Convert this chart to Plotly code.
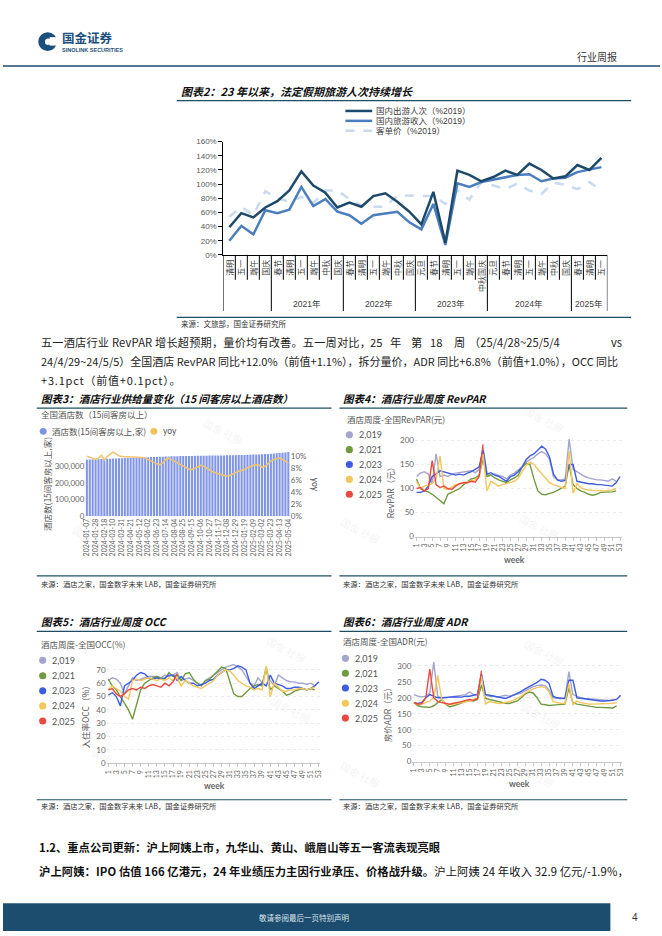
import plotly.graph_objects as go
import pandas as pd

W, H = 662, 936


def X(p):
    return p / W


def Y(p):
    return 1 - p / H


CJK = "Noto Sans CJK SC"
LAT = "Lato, Noto Sans CJK SC"
ARI = "Liberation Sans, Noto Sans CJK SC"

# ---------------- Chart 2 data ----------------
holidays = ["清明", "五一", "端午", "国庆",
            "春节", "清明", "五一", "端午", "中秋", "国庆",
            "春节", "清明", "五一", "端午", "中秋", "国庆",
            "元旦", "春节", "清明", "五一", "端午", "中秋国庆",
            "元旦", "春节", "清明", "五一", "端午", "中秋", "国庆",
            "春节", "清明", "五一"]
year_labels = ["", "2021年", "2022年", "2023年", "2024年", "2025年"]
year_sizes = [4, 6, 6, 6, 7, 3]
trips_pct = [39, 59, 53, 67, 76, 91, 118, 98, 88, 67, 74, 68, 83, 87, 75, 61,
             43, 89, 17, 119, 113, 104, 110, 119, 113, 129, 120, 108, 111, 127, 120, 137]
revenue_pct = [20, 41, 29, 63, 59, 64, 96, 69, 79, 61, 56, 44, 56, 59, 61, 46,
               36, 72, 14, 101, 96, 103, 106, 109, 113, 114, 104, 108, 109, 117, 120, 124]
spend_pct = [54, 68, 56, 90, 80, 75, 82, 73, 91, 91, 79, 70, 68, 68, 84, 84,
             83, 83, 72, 91, 78, 103, 98, 93, 101, 91, 86, 102, 99, 93, 103, 91]

# ---------------- Chart 3 data ----------------
hotel_dates = pd.date_range("2024-01-07", "2025-05-04", freq="7D").strftime("%Y-%m-%d").tolist()
hotel_count = [338000, 339000, 340000, 340500, 341000, 342000, 343000, 343500, 344000, 345000,
               346000, 346500, 347000, 348000, 348500, 349000, 350000, 350500, 351000, 352000,
               352500, 353000, 354000, 354500, 355000, 356000, 356500, 357000, 358000, 358500,
               359000, 359500, 360000, 360000, 360500, 361000, 361000, 361500, 362000, 362000,
               362000, 362500, 363000, 363000, 363000, 363500, 364000, 364000, 364500, 365000,
               365000, 365500, 366000, 366500, 367000, 367500, 368000, 369000, 369500, 370000,
               371000, 372000, 373000, 374000, 375000, 377000, 378000, 380000, 382000, 385000]
hotel_yoy = [10.0, 9.9, 9.7, 9.5, 9.7, 10.2, 9.4, 10.0, 10.4, 10.7,
             10.4, 10.1, 9.95, 9.9, 9.9, 9.9, 9.9, 9.9, 9.85, 9.8,
             9.7, 9.45, 9.2, 8.9, 8.75, 8.6, 8.9, 9.45, 9.7, 9.45,
             9.2, 8.9, 8.6, 8.35, 8.1, 7.8, 7.8, 8.0, 8.2, 8.5,
             8.35, 8.0, 7.65, 7.4, 7.25, 7.1, 6.95, 6.75, 6.7, 6.8,
             7.1, 7.3, 7.5, 7.65, 7.8, 8.1, 8.35, 8.5, 8.6, 8.5,
             8.2, 8.35, 8.75, 9.2, 9.45, 9.6, 9.7, 9.45, 9.2, 8.9]
yoy_ticks = [0, 2, 4, 6, 8, 10]

# ---------------- Weekly hotel data (charts 4-6) ----------------
year_names = ["2,019", "2,021", "2,023", "2,024", "2,025"]
year_colors = ["#A3A5CF", "#6F9A3E", "#3E5CE0", "#F4C65C", "#E9493F"]

revpar_2019 = [125, 132, 135, 130, 110, 172, 125, 128, 125, 130, 132, 133, 135, 135, 137, 133, 140, 185,
               130, 128, 130, 127, 125, 120, 128, 132, 138, 145, 155, 160, 165, 172, 177, 172, 160, 125,
               118, 118, 120, 203, 140, 135, 130, 125, 122, 120, 118, 118, 117, 115, 120, 115]
revpar_2021 = [120, 100, 95, 93, 88, 82, 75, 68, 88, 92, 96, 100, 108, 115, 120, 122, 128, 162,
               125, 128, 122, 118, 115, 112, 118, 122, 128, 145, 152, 150, 120, 95, 88, 87, 90, 92,
               96, 100, 105, 150, 108, 100, 95, 92, 88, 86, 88, 92, 92, 92, 93, 95]
revpar_2023 = [92, 92, 95, 105, 125, 130, 137, 135, 133, 130, 128, 130, 128, 132, 135, 140, 145, 180,
               130, 133, 128, 125, 120, 115, 125, 128, 135, 145, 160, 168, 172, 180, 188, 182, 165, 130,
               118, 115, 117, 150, 150, 115, 113, 112, 110, 110, 108, 108, 107, 106, 105, 112, 125]
revpar_2024 = [115, 100, 105, 108, 110, 120, 168, 100, 98, 103, 108, 110, 112, 113, 115, 118, 125, 172,
               95, 115, 110, 105, 108, 110, 112, 115, 122, 135, 148, 155, 150, 140, 130, 122, 112, 108,
               105, 102, 100, 178, 90, 110, 102, 98, 97, 96, 95, 96, 95, 96, 97, 100]
revpar_2025 = [100, 102, 95, 100, 158, 108, 102, 105, 100, 98, 105, 110, 112, 112, 115, 113, 125, 192]

occ_2019 = [62, 64, 63, 60, 52, 58, 64, 62, 63, 64, 65, 65, 65, 64, 66, 65, 66, 68,
            62, 63, 64, 62, 60, 58, 62, 64, 66, 68, 70, 72, 73, 74, 72, 70, 65, 60,
            58, 64, 60, 70, 62, 58, 66, 64, 62, 61, 61, 60, 60, 59, 60, 58]
occ_2021 = [63, 58, 55, 50, 45, 40, 33, 45, 55, 60, 62, 64, 65, 64, 63, 68, 65, 66,
            62, 67, 68, 63, 60, 58, 62, 63, 66, 69, 72, 71, 62, 52, 50, 50, 53, 56,
            58, 59, 58, 72, 55, 58, 56, 54, 51, 52, 54, 55, 56, 55, 56, 55]
occ_2023 = [51, 53, 50, 43, 58, 60, 62, 66, 68, 67, 64, 63, 64, 63, 64, 66, 66, 62,
            65, 62, 60, 60, 58, 59, 60, 62, 63, 66, 68, 70, 70, 71, 73, 72, 70, 60,
            56, 58, 60, 58, 66, 60, 59, 58, 56, 56, 57, 57, 56, 55, 56, 58, 61]
occ_2024 = [55, 58, 56, 54, 50, 48, 62, 63, 62, 63, 64, 63, 62, 63, 62, 64, 62, 64,
            58, 62, 60, 58, 57, 56, 58, 60, 62, 66, 68, 70, 69, 66, 62, 60, 58, 57,
            55, 56, 55, 73, 50, 60, 57, 54, 54, 55, 55, 56, 56, 55, 56, 57]
occ_2025 = [55, 56, 52, 50, 52, 55, 56, 55, 57, 56, 58, 59, 58, 57, 60, 58, 61, 67]

adr_2019 = [210, 205, 203, 205, 215, 312, 205, 200, 200, 202, 204, 205, 207, 210, 218, 210, 212, 270,
            210, 205, 205, 203, 205, 208, 205, 208, 210, 215, 222, 228, 235, 238, 240, 238, 225, 200,
            198, 197, 198, 282, 210, 205, 200, 198, 197, 195, 193, 193, 192, 192, 195, 195]
adr_2021 = [185, 175, 172, 170, 170, 175, 185, 195, 180, 172, 175, 180, 185, 188, 192, 190, 195, 240,
            198, 195, 190, 188, 185, 183, 182, 185, 190, 200, 212, 218, 215, 200, 180, 178, 176, 177,
            178, 178, 180, 230, 185, 180, 178, 175, 172, 170, 170, 170, 170, 170, 168, 175]
adr_2023 = [185, 182, 185, 200, 210, 205, 200, 200, 200, 202, 203, 203, 202, 205, 205, 208, 210, 275,
            210, 208, 205, 203, 200, 198, 202, 208, 213, 220, 228, 235, 242, 248, 258, 255, 245, 205,
            200, 200, 198, 255, 255, 200, 198, 196, 195, 193, 190, 190, 190, 190, 192, 195, 208]
adr_2024 = [185, 178, 180, 185, 190, 200, 270, 195, 180, 178, 180, 182, 185, 188, 190, 195, 200, 268,
            180, 188, 185, 183, 182, 185, 188, 192, 198, 205, 215, 222, 228, 232, 235, 232, 220, 188,
            185, 183, 182, 245, 178, 190, 185, 182, 180, 180, 180, 180, 181, 182, 183, 185]
adr_2025 = [185, 180, 182, 200, 290, 200, 188, 185, 182, 180, 183, 185, 188, 192, 195, 192, 198, 285]

revpar_series = [revpar_2019, revpar_2021, revpar_2023, revpar_2024, revpar_2025]
occ_series = [occ_2019, occ_2021, occ_2023, occ_2024, occ_2025]
adr_series = [adr_2019, adr_2021, adr_2023, adr_2024, adr_2025]

fig = go.Figure()
annotations = []
shapes = []


def txt(x, y, s, size=10, color="#222", xanchor="left", yanchor="middle",
        family=CJK, angle=0, xref="paper", yref="paper", ls=None):
    if ls is not None:
        s = '<span style="letter-spacing:%.2fpx">%s</span>' % (ls, s)
    annotations.append(dict(
        x=X(x) if xref == "paper" else x, y=Y(y) if yref == "paper" else y,
        xref=xref, yref=yref, text=s, showarrow=False, xanchor=xanchor, yanchor=yanchor,
        textangle=angle, font=dict(size=size, color=color, family=family), borderpad=0))


def hline(x0, x1, y, color="#1F4E62", width=1.2, dash="solid"):
    shapes.append(dict(type="line", xref="paper", yref="paper", x0=X(x0), x1=X(x1),
                       y0=Y(y), y1=Y(y), line=dict(color=color, width=width, dash=dash)))


def dot(cx, cy, r, color):
    shapes.append(dict(type="circle", xref="paper", yref="paper", x0=X(cx - r), x1=X(cx + r),
                       y0=Y(cy + r), y1=Y(cy - r), fillcolor=color, line=dict(width=0)))


# ---------------- Header ----------------
dot(45, 38, 9.5, "#1C4F7C")
shapes.append(dict(type="rect", xref="paper", yref="paper", x0=X(47), x1=X(55.5), y0=Y(42), y1=Y(33.5),
                   fillcolor="white", line=dict(width=0)))
dot(45.5, 38, 3.2, "white")
txt(58, 33.5, "<b>国金证券</b>", 12.5, "#1C4F7C")
txt(58, 46.5, "<b>SINOLINK SECURITIES</b>", 5.5, "#1C4F7C", family=ARI)
txt(620, 53, "行业周报", 10, "#333", xanchor="right")
hline(0, 662, 62.5, "#1C4B6B", 1.5)

# ---------------- Chart 2 ----------------
txt(178, 88, "<b><i>图表2：23 年以来，法定假期旅游人次持续增长</i></b>", 11, "#111")
hline(175, 633, 97.5, "#1F4E62", 1.3)

idx = list(range(len(holidays)))
fig.add_trace(go.Scatter(x=idx, y=spend_pct, mode="lines", xaxis="x", yaxis="y",
                         line=dict(color="#C9DAEF", width=2.5, dash="dash")))
fig.add_trace(go.Scatter(x=idx, y=revenue_pct, mode="lines", xaxis="x", yaxis="y",
                         line=dict(color="#4A7EBE", width=2.5)))
fig.add_trace(go.Scatter(x=idx, y=trips_pct, mode="lines", xaxis="x", yaxis="y",
                         line=dict(color="#1D4A6B", width=2.5)))

# legend for chart 2
leg2 = [("国内出游人次（%2019）", "#1D4A6B", "solid"),
        ("国内旅游收入（%2019）", "#4A7EBE", "solid"),
        ("客单价（%2019）", "#C9DAEF", "dash")]
for i, (name, c, d) in enumerate(leg2):
    yy = 108 + 10 * i
    hline(345, 372, yy, c, 2.5, d)
    txt(375, yy, name, 8.5, "#404040", family=ARI)

# category labels & separators
for i, h in enumerate(holidays):
    txt(i, 257, h, 8, "#404040", xanchor="center", yanchor="top", angle=-90, family=ARI, xref="x")
bounds = [0]
for s in year_sizes:
    bounds.append(bounds[-1] + s)
for k in range(len(holidays) + 1):
    long = k in bounds
    shapes.append(dict(type="line", xref="x", yref="paper", x0=k - 0.5, x1=k - 0.5,
                       y0=Y(253.3), y1=Y(310 if long else 278.5), line=dict(color="black", width=1)))
for g, lab in enumerate(year_labels):
    if lab:
        mid = (bounds[g] + bounds[g + 1] - 1) / 2
        txt(mid, 303, lab, 8.5, "#404040", family=ARI, xref="x", xanchor="center")

hline(175, 633, 316.5, "#1F4E62", 1.3)
txt(178, 323, "来源：文旅部，国金证券研究所", 7.5, "#333")

# ---------------- Paragraph ----------------
txt(37, 341, "五一酒店行业 RevPAR 增长超预期，量价均有改善。五一周对比，", 11.2, "#222", ls=0.18)
txt(369, 341, "25", 11.2, "#222")
txt(389, 341, "年", 11.2, "#222")
txt(410, 341, "第", 11.2, "#222")
txt(429, 341, "18", 11.2, "#222")
txt(453, 341, "周", 11.2, "#222")
txt(469, 341, "（25/4/28~25/5/4", 11.2, "#222")
txt(625, 341, "vs", 11.2, "#222", xanchor="right")
txt(37, 360.5, "24/4/29~24/5/5）全国酒店 RevPAR 同比+12.0%（前值+1.1%），拆分量价，ADR 同比+6.8%（前值+1.0%），OCC 同比",
    11.0, "#222")
txt(37, 380, "+3.1pct（前值+0.1pct）。", 11.0, "#222", ls=0.8)

# ---------------- Chart titles row 1 ----------------
txt(37, 398, "<b><i>图表3：酒店行业供给量变化（15 间客房以上酒店数）</i></b>", 10.5, "#111")
txt(342, 398, "<b><i>图表4：酒店行业周度 RevPAR</i></b>", 10.5, "#111")
hline(34, 331, 408, "#1F4E62", 1.2)
hline(339, 629, 408, "#1F4E62", 1.2)
hline(34, 331, 577.5, "#1F4E62", 1.2)
hline(339, 629, 577.5, "#1F4E62", 1.2)
txt(37, 586, "来源：酒店之家，国金数字未来 LAB，国金证券研究所", 7.3, "#333")
txt(342, 586, "来源：酒店之家，国金数字未来 LAB，国金证券研究所", 7.3, "#333")

# ---------------- Chart 3 ----------------
txt(37, 414, "全国酒店数（15间客房以上）", 8.5, "#555")
dot(40.5, 431.5, 3.5, "#8094E4")
txt(48, 431.5, "酒店数(15间客房以上,家)", 8.5, "#555")
dot(152, 431.5, 3.5, "#F2C15A")
txt(160, 431.5, "yoy", 8.5, "#555", family=LAT)
txt(45, 485, "酒店数(15间客房以上,家)", 8.5, "#555", xanchor="center", angle=-90)
txt(314, 485, "yoy", 8.5, "#555", xanchor="center", angle=90, family=LAT)

fig.add_trace(go.Bar(x=hotel_dates, y=hotel_count, xaxis="x2", yaxis="y2",
                     marker=dict(color="#8095E6", line=dict(width=0))))
fig.add_trace(go.Scatter(x=hotel_dates, y=hotel_yoy, xaxis="x2", yaxis="y3", mode="lines",
                         line=dict(color="#F2C46D", width=1.5)))

# ---------------- Chart 4-6 common ----------------


def weekly(series, xa, ya):
    for s, c in zip(series, year_colors):
        fig.add_trace(go.Scatter(x=list(range(1, len(s) + 1)), y=s, mode="lines", xaxis=xa, yaxis=ya,
                                 line=dict(color=c, width=1.4)))


def legend_block(xdot, ys):
    for name, c, yy in zip(year_names, year_colors, ys):
        dot(xdot, yy, 3.6, c)
        txt(xdot + 8.5, yy, name, 9, "#555", family=LAT)


weekly(revpar_series, "x4", "y4")
txt(346, 419, "酒店周度-全国RevPAR(元)", 8.5, "#555")
legend_block(349, [435, 450, 465, 480, 495])
txt(390, 492, "RevPAR（元）", 8.5, "#555", xanchor="center", angle=-90)
txt(515, 561, "<b>week</b>", 8.5, "#666", xanchor="center", family=LAT)

# ---------------- Row 2 titles ----------------
txt(37, 623, "<b><i>图表5：酒店行业周度 OCC</i></b>", 10.5, "#111")
txt(342, 623, "<b><i>图表6：酒店行业周度 ADR</i></b>", 10.5, "#111")
hline(34, 331, 633.5, "#1F4E62", 1.2)
hline(339, 629, 633.5, "#1F4E62", 1.2)
hline(34, 331, 803.5, "#1F4E62", 1.2)
hline(339, 629, 803.5, "#1F4E62", 1.2)
txt(37, 810, "来源：酒店之家，国金数字未来 LAB，国金证券研究所", 7.3, "#333")
txt(342, 810, "来源：酒店之家，国金数字未来 LAB，国金证券研究所", 7.3, "#333")

weekly(occ_series, "x5", "y5")
txt(37, 646, "酒店周度-全国OCC(%)", 8.5, "#555")
legend_block(40, [662.7, 678.3, 693.5, 708.7, 724])
txt(83, 718, "入住率OCC（%）", 8.5, "#555", xanchor="center", angle=-90)
txt(213, 790, "<b>week</b>", 8.5, "#666", xanchor="center", family=LAT)

weekly(adr_series, "x6", "y6")
txt(342, 643.5, "酒店周度-全国ADR(元)", 8.5, "#555")
legend_block(345, [660.7, 675.7, 690.7, 706, 721])
txt(387, 716, "房价ADR（元）", 8.5, "#555", xanchor="center", angle=-90)
txt(520, 788, "<b>week</b>", 8.5, "#666", xanchor="center", family=LAT)

# watermarks
for wx, wy in [(222, 432), (90, 540), (545, 420), (540, 528), (360, 532), (285, 652),
               (290, 712), (110, 765), (545, 655), (542, 718), (360, 778), (535, 778)]:
    txt(wx, wy, "国金 社服", 10, "rgba(150,150,150,0.13)", xanchor="center", angle=28)

# ---------------- Bottom text ----------------
txt(35, 851, "<b>1.2、重点公司更新：沪上阿姨上市，九华山、黄山、峨眉山等五一客流表现亮眼</b>", 11.3, "#111")
txt(35, 875, "<b>沪上阿姨：IPO 估值 166 亿港元，24 年业绩压力主因行业承压、价格战升级。</b>沪上阿姨 24 年收入 32.9 亿元/-1.9%，",
    11.3, "#111", ls=0.1)

shapes.append(dict(type="rect", xref="paper", yref="paper", x0=X(0), x1=X(612), y0=Y(936), y1=Y(908),
                   fillcolor="#1C4D6E", line=dict(width=0)))
txt(303, 922, "敬请参阅最后一页特别声明", 7.5, "#D8E2EA", xanchor="center")
txt(637, 922, "4", 10, "#333", xanchor="center", family=ARI)

# ---------------- Layout ----------------
tick_small = dict(size=7, color="#666", family=LAT)
tick_y = dict(size=8, color="#666", family=LAT)

week_x = dict(range=[0.6, 53.4], tick0=1, dtick=2, tickangle=-90, tickfont=tick_small,
              showline=True, linecolor="#C8C8C8", linewidth=1, ticks="outside", ticklen=3,
              tickcolor="#C8C8C8", showgrid=False, zeroline=False)
grid_y = dict(showgrid=True, gridcolor="#ECECEC", griddash="dot", zeroline=False, showline=False,
              tickfont=tick_y, ticks="")

fig.update_layout(
    width=W, height=H, margin=dict(l=0, r=0, t=0, b=0), showlegend=False,
    paper_bgcolor="white", plot_bgcolor="white",
    font=dict(family=CJK, color="#222"),
    annotations=annotations, shapes=shapes,
    xaxis=dict(domain=[X(222), X(609)], range=[-0.5, len(holidays) - 0.5], showticklabels=False,
               showline=True, linecolor="black", linewidth=1, ticks="", showgrid=False, zeroline=False,
               anchor="y"),
    yaxis=dict(domain=[Y(253.3), Y(139)], range=[0, 160], dtick=20, ticksuffix="%", showline=True,
               linecolor="black", linewidth=1, ticks="outside", ticklen=4, tickcolor="black",
               tickfont=dict(size=8, color="#595959", family=ARI), showgrid=False, zeroline=False,
               anchor="x"),
    xaxis2=dict(domain=[X(83), X(289)], type="category", tickvals=hotel_dates[::3], tickangle=-90,
                tickfont=tick_small, showline=False, ticks="", showgrid=False, zeroline=False, anchor="y2"),
    yaxis2=dict(domain=[Y(517.3), Y(445)], range=[0, 428000], tickvals=[0, 100000, 200000, 300000],
                tickformat=",d", tickfont=tick_y, showgrid=False, zeroline=False, showline=False,
                anchor="x2"),
    yaxis3=dict(overlaying="y2", side="right", range=[0, 11.93], tickvals=yoy_ticks,
                ticktext=["%d%%" % v for v in yoy_ticks], tickfont=tick_y, showgrid=False,
                zeroline=False, showline=False, anchor="x2"),
    xaxis4=dict(domain=[X(415.1), X(623.3)], anchor="y4", **week_x),
    yaxis4=dict(domain=[Y(537.7), Y(428.6)], range=[0, 225], tickvals=[0, 50, 100, 150, 200],
                anchor="x4", **grid_y),
    xaxis5=dict(domain=[X(104.4), X(319.9)], anchor="y5", **week_x),
    yaxis5=dict(domain=[Y(766.7), Y(661.5)], range=[0, 78], tickvals=[0, 10, 20, 30, 40, 50, 60, 70],
                anchor="x5", **grid_y),
    xaxis6=dict(domain=[X(412.4), X(623.9)], anchor="y6", **week_x),
    yaxis6=dict(domain=[Y(765), Y(658.6)], range=[0, 330], tickvals=[0, 50, 100, 150, 200, 250, 300],
                anchor="x6", **grid_y),
    bargap=0.28,
)

fig.write_html("out.html", config={"displayModeBar": False},
               post_script="document.body.style.margin='0';document.body.style.overflow='hidden';")
